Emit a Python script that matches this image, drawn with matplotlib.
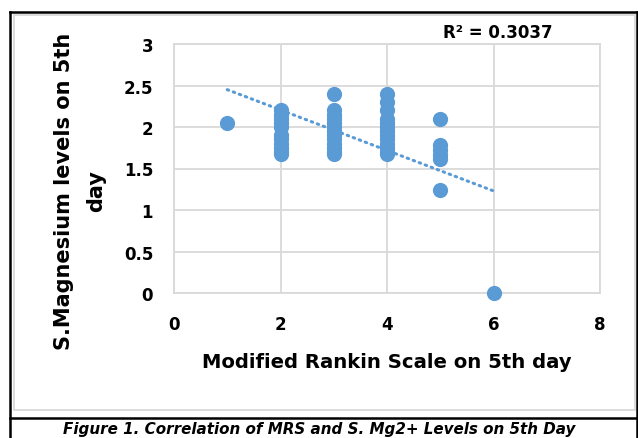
import numpy as np
import matplotlib
matplotlib.use('Agg')
import matplotlib.pyplot as plt
from matplotlib.patches import Rectangle
from matplotlib.lines import Line2D

# MRS score on 5th day and S.Mg levels
mrs_1 = [1]
mg_1 = [2.05]
mrs_2 = [2] * 11
mg_2 = [2.2, 2.15, 2.1, 2.05, 2.0, 1.9, 1.85, 1.8, 1.75, 1.7, 1.67]
mrs_3 = [3] * 13
mg_3 = [2.4, 2.2, 2.15, 2.1, 2.05, 2.0, 1.95, 1.9, 1.85, 1.8, 1.75, 1.7, 1.68]
mrs_4 = [4] * 13
mg_4 = [2.4, 2.3, 2.2, 2.1, 2.05, 2.0, 1.95, 1.9, 1.85, 1.8, 1.75, 1.7, 1.67]
mrs_5 = [5] * 6
mg_5 = [2.1, 1.78, 1.72, 1.66, 1.62, 1.24]
mrs_6 = [6]
mg_6 = [0.0]

# excel linear trendline, ends
trend_x = [1, 6]
trend_y = [2.45, 1.23]

r2_label = 'R² = 0.3037'
xlabel = 'Modified Rankin Scale on 5th day'
ylabel = 'S.Magnesium levels on 5th\nday'
caption = 'Figure 1. Correlation of MRS and S. Mg2+ Levels on 5th Day'

x = np.array(mrs_1 + mrs_2 + mrs_3 + mrs_4 + mrs_5 + mrs_6, dtype=float)
y = np.array(mg_1 + mg_2 + mg_3 + mg_4 + mg_5 + mg_6)

blue = '#5b9bd5'
grid_c = '#d9d9d9'
fnt = 'DejaVu Sans'

fig = plt.figure(figsize=(6.38, 4.39), dpi=100)
ax = fig.add_axes([174/638, 1-294/439, 426/638, 249/439])

ax.scatter(x, y, s=120, color=blue, zorder=3, clip_on=False, linewidths=0)
ax.plot(trend_x, trend_y, color=blue, lw=2.2, ls=(0, (0.5, 1.6)),
        dash_capstyle='round', zorder=4)

ax.set_xlim(0, 8)
ax.set_ylim(0, 3)
ax.set_xticks([0, 2, 4, 6, 8])
ax.set_yticks([0, 0.5, 1, 1.5, 2, 2.5, 3])
ax.set_yticklabels(['0', '0.5', '1', '1.5', '2', '2.5', '3'])
ax.grid(True, color=grid_c, lw=1.3, zorder=0)
ax.set_axisbelow(True)
for s in ax.spines.values():
    s.set_color(grid_c)
    s.set_linewidth(1.3)
ax.tick_params(axis='y', length=0, labelsize=12, pad=15)
ax.tick_params(axis='x', length=0, labelsize=12, pad=16)
for lab in ax.get_xticklabels() + ax.get_yticklabels():
    lab.set_fontweight('bold')
    lab.set_fontfamily(fnt)

ax.set_xlabel(xlabel, fontsize=14.1, fontweight='bold', family=fnt)
ax.xaxis.set_label_coords(0.5, -(353-294)/249)
ax.set_ylabel(ylabel, fontsize=15, fontweight='bold', family=fnt,
              linespacing=1.75)
ax.yaxis.set_label_coords(-(174-80)/426, (294-191)/249)
ax.yaxis.label.set_va('center')

fig.text(498/638, 1-33/439, r2_label, ha='center', va='center', fontsize=12,
         fontweight='bold', family=fnt)

# frames around the chart
fig.add_artist(Rectangle((13.5/638, 1-411/439), 621/638, 395/439, transform=fig.transFigure,
                         fill=False, ec=grid_c, lw=1.3))
fig.add_artist(Line2D([10/638, 10/638], [0, 1-13/439], transform=fig.transFigure, color='black', lw=1.8))
fig.add_artist(Line2D([10/638, 637/638], [1-13/439, 1-13/439], transform=fig.transFigure, color='black', lw=1.8))
fig.add_artist(Line2D([637/638, 637/638], [0, 1-13/439], transform=fig.transFigure, color='black', lw=1.8))
fig.add_artist(Line2D([10/638, 637/638], [1-419/439, 1-419/439], transform=fig.transFigure, color='black', lw=1.8))

fig.text(0.5, 1-430/439, caption, ha='center', va='center', fontsize=10.9,
         fontweight='bold', style='italic', family='DejaVu Sans')

fig.savefig('out.png', dpi=100)
